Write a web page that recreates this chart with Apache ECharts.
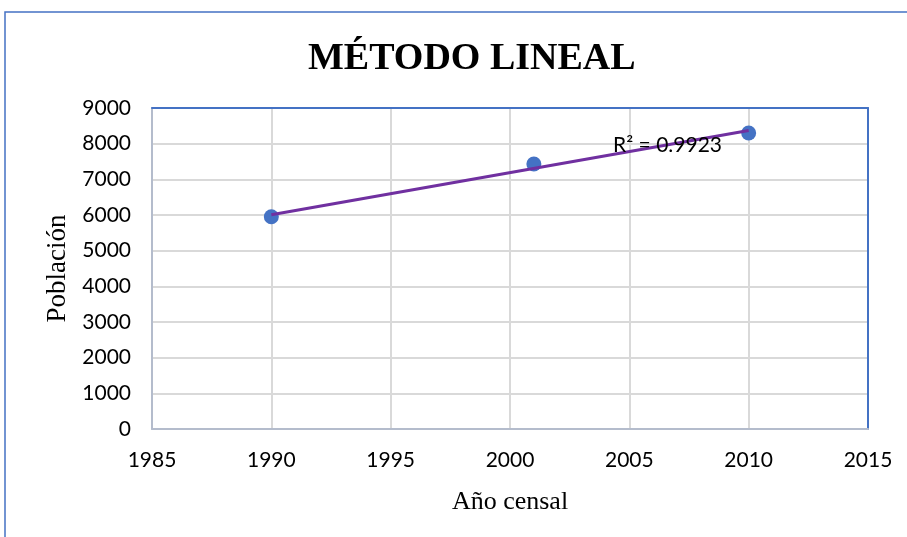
<!DOCTYPE html>
<html>
<head>
<meta charset="utf-8">
<title>Método lineal</title>
<script src="https://cdn.jsdelivr.net/npm/echarts@6/dist/echarts.min.js"></script>
<style>
  html, body { margin: 0; padding: 0; background: #fff; }
  #chart { width: 907px; height: 537px; }
</style>
</head>
<body>
<div id="chart"></div>
<script>
// datos
const anios = [1990, 2001, 2010];
const poblacion = [5950, 7430, 8300];
const xTicks = [1985, 1990, 1995, 2000, 2005, 2010, 2015];
const yTicks = [0, 1000, 2000, 3000, 4000, 5000, 6000, 7000, 8000, 9000];
const r2Texto = 'R² = 0.9923';
const r2Pos = [2006.6, 7960];

// linea de tendencia (minimos cuadrados, como en Excel)
function regresion(xs, ys) {
  const n = xs.length;
  const mx = xs.reduce((a, b) => a + b, 0) / n;
  const my = ys.reduce((a, b) => a + b, 0) / n;
  let sxy = 0, sxx = 0;
  for (let i = 0; i < n; i++) {
    sxy += (xs[i] - mx) * (ys[i] - my);
    sxx += (xs[i] - mx) * (xs[i] - mx);
  }
  const m = sxy / sxx;
  return { m: m, b: my - m * mx };
}
const reg = regresion(anios, poblacion);
const xIni = Math.min(...anios), xFin = Math.max(...anios);
const tendencia = [[xIni, reg.m * xIni + reg.b], [xFin, reg.m * xFin + reg.b]];

const labelFont = { color: '#000', fontFamily: 'Lato', fontSize: 21 };
const serif = 'Liberation Serif';
const xMin = xTicks[0], xMax = xTicks[xTicks.length - 1];
const yMin = yTicks[0], yMax = yTicks[yTicks.length - 1];

// ejes extra solo para el borde azul de arriba y derecha
const bordeEje = {
  axisLine: { show: true, onZero: false, lineStyle: { color: '#4472c4', width: 2 } },
  axisTick: { show: false }, axisLabel: { show: false }, splitLine: { show: false }
};

const myChart = echarts.init(document.getElementById('chart'));
const option = {
  animation: false,
  backgroundColor: '#fff',
  title: {
    text: 'MÉTODO LINEAL',
    left: 303,
    top: 35,
    textStyle: { fontFamily: serif, fontWeight: 'bold', fontSize: 38, color: '#000' }
  },
  graphic: [{
    type: 'rect',
    shape: { x: 5, y: 12, width: 1000, height: 1000 },
    style: { fill: 'none', stroke: '#4472c4', lineWidth: 1.5 },
    silent: true
  }],
  grid: { left: 152, top: 108, right: 39, bottom: 108 },
  xAxis: [{
    type: 'value',
    min: xMin, max: xMax, interval: 5,
    name: 'Año censal', nameLocation: 'middle', nameGap: 60,
    nameTextStyle: { fontFamily: serif, fontSize: 26, color: '#000' },
    axisLine: { onZero: false, lineStyle: { color: '#b4bccc', width: 2 } },
    axisTick: { show: false },
    axisLabel: Object.assign({ margin: 21, formatter: v => String(v) }, labelFont),
    splitLine: { lineStyle: { color: '#d9d9d9', width: 2 } }
  }, Object.assign({ type: 'value', position: 'top', min: xMin, max: xMax }, bordeEje)],
  yAxis: [{
    type: 'value',
    min: yMin, max: yMax, interval: 1000,
    name: 'Población', nameLocation: 'middle', nameGap: 78,
    nameTextStyle: { fontFamily: serif, fontSize: 27, color: '#000' },
    axisLine: { show: true, onZero: false, lineStyle: { color: '#b4bccc', width: 2 } },
    axisTick: { show: false },
    axisLabel: Object.assign({ margin: 21, formatter: v => String(v) }, labelFont),
    splitLine: { lineStyle: { color: '#d9d9d9', width: 2 } }
  }, Object.assign({ type: 'value', position: 'right', min: yMin, max: yMax }, bordeEje)],
  series: [
    {
      type: 'scatter',
      data: anios.map((a, i) => [a, poblacion[i]]),
      symbolSize: 15,
      itemStyle: { color: '#4472c4', opacity: 1 },
      z: 2
    },
    {
      type: 'line',
      data: tendencia,
      showSymbol: false,
      lineStyle: { color: '#7030a0', width: 3 },
      z: 3,
      markPoint: {
        symbol: 'circle', symbolSize: 0,
        data: [{ coord: r2Pos }],
        label: Object.assign({ show: true, position: 'inside', formatter: r2Texto }, labelFont)
      }
    }
  ]
};
myChart.setOption(option);
</script>
</body>
</html>
